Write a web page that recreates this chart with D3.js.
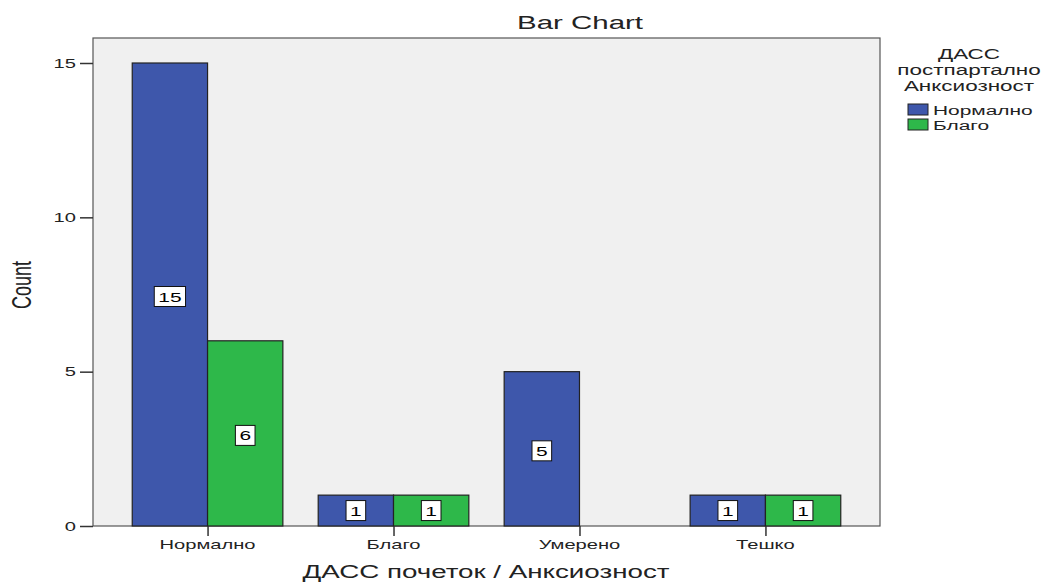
<!DOCTYPE html>
<html><head><meta charset="utf-8">
<script src="https://cdn.jsdelivr.net/npm/d3@7"></script>
<style>body{margin:0;background:#fff}svg{display:block;font-family:"Liberation Sans",Arial,sans-serif}</style>
</head><body><svg id="c" width="1050" height="582"></svg>
<script>
const categories = ["Нормално","Благо","Умерено","Тешко"];
const seriesNames = ["Нормално","Благо"];
const seriesNormalno = [15,1,5,1];
const seriesBlago = [6,1,0,1];
const yTicks = [0,5,10,15];
const colors = ["#3E57AB","#2EB84A"];
const title = "Bar Chart";
const xTitle = "ДАСС почеток / Анксиозност";
const yTitle = "Count";
const legendTitle = ["ДАСС","постпартално","Анксиозност"];

const svg = d3.select("#c");
const L=93,R=880,T=38,B=526;
const SX=1.55;
const x = d3.scalePoint().domain(categories).range([L,R]).padding(0.616);
const step = x.step();
const bw = step*0.405;
const y = d3.scaleLinear().domain([0,15]).range([B,63]);

function stext(g,px,py,str,size,anchor,sx){
  return g.append("text").attr("transform",`translate(${px},${py}) scale(${sx||SX},1)`)
    .attr("text-anchor",anchor||"middle").attr("font-size",size).attr("fill","#222").text(str);
}

svg.append("rect").attr("x",L).attr("y",T).attr("width",R-L).attr("height",B-T)
  .attr("fill","#F0F0F0").attr("stroke","#555").attr("stroke-width",1.2);

const series=[seriesNormalno,seriesBlago];
series.forEach((vals,si)=>{
  const g=svg.append("g");
  categories.forEach((c,i)=>{
    const v=vals[i]; if(!v) return;
    const x0 = x(c) + (si===0?-bw:0);
    g.append("rect").attr("x",x0).attr("y",y(v)).attr("width",bw).attr("height",y(0)-y(v))
      .attr("fill",colors[si]).attr("stroke","#222").attr("stroke-width",1.2);
    const cx=x0+bw/2, cy=(y(v)+y(0))/2 + (v>2?2:0);
    const box=g.append("rect").attr("fill","#fff").attr("stroke","#111").attr("stroke-width",1);
    const t=stext(g,cx,cy+5,String(v),13.5).attr("fill","#000");
    const w=t.node().getComputedTextLength()*SX+8;
    box.attr("x",cx-w/2).attr("y",cy-10).attr("width",w).attr("height",20);
  });
});

// y axis
const ya = svg.append("g").attr("transform",`translate(${L},0)`)
  .call(d3.axisLeft(y).tickValues(yTicks).tickSize(13).tickPadding(4));
ya.select(".domain").remove();
ya.selectAll("line").attr("stroke","#333").attr("stroke-width",1.5);
ya.selectAll("text").remove();
yTicks.forEach(v=>stext(ya,-17,y(v)+4.5,String(v),13,"end"));

// x axis
const xa = svg.append("g").attr("transform",`translate(0,${B})`)
  .call(d3.axisBottom(x).tickSize(10).tickPadding(6));
xa.select(".domain").remove();
xa.selectAll("line").attr("stroke","#333").attr("stroke-width",1.5);
xa.selectAll("text").remove();
categories.forEach(c=>stext(xa,x(c),23,c,13));

stext(svg,580,29,title,19);
stext(svg,486,578,xTitle,19,"middle",1.46);
svg.append("text").attr("transform","translate(31,285) scale(1.5,1) rotate(-90)").attr("text-anchor","middle")
  .attr("font-size",18).attr("fill","#222").text(yTitle);

// legend
const lg=svg.append("g");
legendTitle.forEach((t,i)=>stext(lg,969,59+i*16,t,14.5));
seriesNames.forEach((n,i)=>{
  lg.append("rect").attr("x",908).attr("y",104+i*15).attr("width",20).attr("height",11)
    .attr("fill",colors[i]).attr("stroke","#222").attr("stroke-width",1);
  stext(lg,933,115+i*15,n,13.5,"start");
});
</script></body></html>
